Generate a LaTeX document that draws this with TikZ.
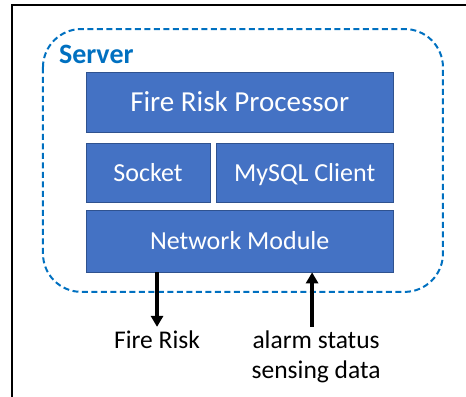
\documentclass[tikz,border=0pt]{standalone}
\usepackage{fontspec}
\setmainfont{Carlito}
\usetikzlibrary{arrows.meta}
\definecolor{boxblue}{HTML}{4472C4}
\definecolor{boxedge}{HTML}{2F528F}
\definecolor{serverblue}{HTML}{0070C0}

\begin{document}
\begin{tikzpicture}[
    block/.style={draw=boxedge, fill=boxblue, text=white, line width=0.8pt, inner sep=0pt,
      text height=16.7pt, text depth=0pt, font=\fontsize{26}{30}\selectfont},
    outtext/.style={font=\fontsize{25.5}{30}\selectfont, align=center},
    flow/.style={line width=3.2pt, -{Triangle[length=11pt,width=12pt]}}
  ]
        \useasboundingbox (0,0) rectangle (16.38,-13.95);
        \draw[line width=1.4pt] (0.42,-13.95) -- (0.42,-0.18) -- (16.38,-0.18);

        % server boundary
        \draw[serverblue, line width=2pt, dash pattern=on 6pt off 3.5pt, rounded corners=1.35cm]
          (1.51,-1.02) rectangle (15.57,-10.26);
        \node[anchor=west, text=serverblue, font=\fontsize{28}{30}\selectfont\bfseries] (server) at (1.95,-1.93) {Server};

        % modules
        \node[block, minimum width=10.81cm, minimum height=2.11cm, text height=18.7pt,
          font=\fontsize{29}{30}\selectfont] (proc) at (8.425,-3.59) {Fire Risk Processor};
        \node[block, minimum width=4.36cm, minimum height=2.07cm] (sock) at (5.20,-6.07) {Socket};
        \node[block, minimum width=6.24cm, minimum height=2.07cm] (mysql) at (10.71,-6.07) {MySQL Client};
        \node[block, minimum width=10.81cm, minimum height=2.18cm] (net) at (8.425,-8.47) {Network Module};

        % in and out
        \node[outtext] (risk) at (5.52,-11.95) {Fire Risk};
        \node[outtext] (sensing) at (11.11,-12.55) {alarm status\\sensing data};
        \coordinate (riskend) at (5.52,-11.49);
        \coordinate (datastart) at (10.97,-11.49);
        \draw[flow] (net.south -| riskend) -- (riskend);
        \draw[flow] (datastart) -- (datastart |- net.south);
\end{tikzpicture}
\end{document}
